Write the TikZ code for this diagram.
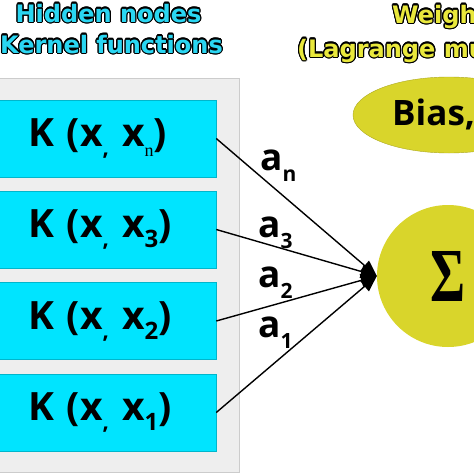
\documentclass[tikz,border=0pt]{standalone}
\usepackage{fontspec}
\usepackage{graphicx}
\usepackage[copies]{contour}
\setmainfont{Open Sans}
\newfontfamily\headfont{DejaVu Sans}
\newfontfamily\serifsub{Liberation Serif}
\usetikzlibrary{arrows.meta, shapes.geometric}
\definecolor{kernelcyan}{HTML}{00E4FF}
\definecolor{headcyan}{HTML}{2AD6F2}
\definecolor{sumyellow}{HTML}{D9D52B}
\definecolor{headyellow}{HTML}{E9E83C}
\definecolor{panelgray}{HTML}{EEEEEE}
\contourlength{1.2pt}
\contournumber{16}
\newcommand{\kcomma}{\raisebox{-9pt}{\fontsize{22}{22}\selectfont ,}}
\newcommand{\ksub}[1]{\raisebox{-10pt}{\fontsize{24}{24}\selectfont #1}}
\newcommand{\asub}[1]{\raisebox{-11pt}{\fontsize{21}{21}\selectfont #1}}

\begin{document}
\begin{tikzpicture}[
    x=1pt, y=-1pt,
    kbox/.style={rectangle, fill=kernelcyan, draw=kernelcyan!80!black,
                 line width=0.5pt, minimum width=218pt, minimum height=77pt,
                 text width=158pt, inner xsep=30pt, align=left,
                 font=\bfseries\fontsize{39}{39}\selectfont},
    weight/.style={anchor=base west, inner sep=0pt,
                   font=\bfseries\fontsize{37}{37}\selectfont},
    head/.style={inner sep=0pt, font=\headfont\bfseries\fontsize{24}{24}\selectfont},
    >={Triangle[length=16pt,width=13pt]}
  ]
    \useasboundingbox (0,0) rectangle (474,474);
    \clip (0,0) rectangle (474,474);
    \fill[white] (0,0) rectangle (474,474);

    % panel of hidden nodes
    \filldraw[fill=panelgray, draw=gray!40, line width=0.8pt] (-2,78) rectangle (239,472);

    \node[head, anchor=base] (hidden) at (108.5,22)
      {\contour{black}{\textcolor{headcyan}{Hidden nodes}}};
    \node[head, anchor=base east] (kernel) at (223,53)
      {\contour{black}{\textcolor{headcyan}{Kernel functions}}};
    \node[head, anchor=base west] (weigh) at (392,23)
      {\contour{black}{\textcolor{headyellow}{Weigh}}};
    \node[head, anchor=base west] (lagrange) at (297,57)
      {\contour{black}{\textcolor{headyellow}{(Lagrange mu}}};

    \node[kbox] (kn) at (107,138.5) {K (x\kcomma{} x\ksub{\serifsub\mdseries\fontsize{18}{18}\selectfont n})};
    \node[kbox] (k3) at (107,229.5) {K (x\kcomma{} x\ksub{3})};
    \node[kbox] (k2) at (107,321) {K (x\kcomma{} x\ksub{2})};
    \node[kbox] (k1) at (107,412.5) {K (x\kcomma{} x\ksub{1})};

    \node[ellipse, fill=sumyellow, draw=sumyellow!80!black, line width=0.4pt,
          minimum width=192pt, minimum height=76pt] (bias) at (449,115) {};
    \node[anchor=base west, inner sep=0pt, font=\bfseries\fontsize{35}{35}\selectfont]
      (biastext) at (392,125) {Bias,};

    \node[circle, fill=sumyellow, minimum size=142pt, inner sep=0pt] (sum) at (448,276)
      {\resizebox{35pt}{50pt}{\serifsub\bfseries Σ}};

    \draw[->, line width=1.4pt] (kn.east) -- (sum.west);
    \draw[->, line width=1.4pt] (k3.east) -- (sum.west);
    \draw[->, line width=1.4pt] (k2.east) -- (sum.west);
    \draw[->, line width=1.4pt] (k1.east) -- (sum.west);

    \node[weight] (an) at (260,170) {a\asub{n}};
    \node[weight] (a3) at (258,237) {a\asub{3}};
    \node[weight] (a2) at (258,287) {a\asub{2}};
    \node[weight] (a1) at (258,337) {a\asub{1}};
  \end{tikzpicture}
\end{document}
